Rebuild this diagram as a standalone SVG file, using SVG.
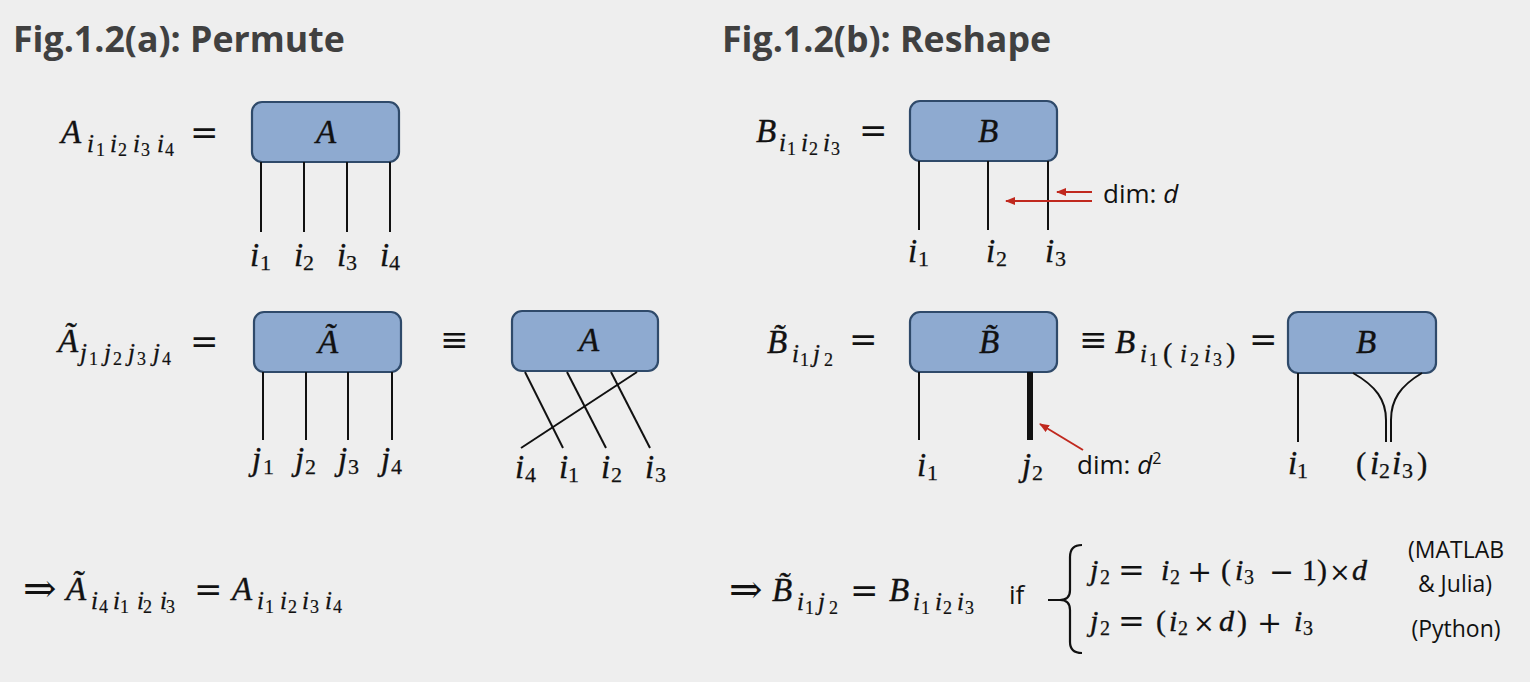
<svg xmlns="http://www.w3.org/2000/svg" width="1530" height="682" viewBox="0 0 1530 682">
<defs>
<style>
.title{font-family:"Open Sans","Noto Sans",sans-serif;font-weight:700;font-size:35.7px;fill:#404040}
.m{font-family:"Liberation Serif","DejaVu Serif",serif;font-style:italic;font-size:33px;fill:#111;stroke:#111;stroke-width:0.4}
.s{font-family:"Liberation Serif","DejaVu Serif",serif;font-style:italic;font-size:25px;fill:#111;stroke:#111;stroke-width:0.3}
.d{font-family:"Liberation Serif","DejaVu Serif",serif;font-size:18px;fill:#111;stroke:#111;stroke-width:0.2}
.li{font-family:"Liberation Serif","DejaVu Serif",serif;font-style:italic;font-size:33px;fill:#111;stroke:#111;stroke-width:0.35}
.ld{font-family:"Liberation Serif","DejaVu Serif",serif;font-size:22px;fill:#111;stroke:#111;stroke-width:0.25}
.op{font-family:"DejaVu Serif","Liberation Serif",serif;font-size:34px;fill:#111}
.up{font-family:"Liberation Serif","DejaVu Serif",serif;font-size:31px;fill:#111;stroke:#111;stroke-width:0.3}
.sp{font-family:"Liberation Serif","DejaVu Serif",serif;font-size:28px;fill:#111;stroke:#111;stroke-width:0.3}
.sans{font-family:"Open Sans","Noto Sans",sans-serif;font-size:22px;fill:#111}
.box{fill:#8eaad0;stroke:#2f4a6a;stroke-width:2.2}
.leg{stroke:#111;stroke-width:2;fill:none}
.red{stroke:#c0281e;stroke-width:2;fill:none}
</style>
<marker id="ah" viewBox="0 0 10 8" refX="9" refY="4" markerWidth="10" markerHeight="8" markerUnits="userSpaceOnUse" orient="auto">
<path d="M0,0 L10,4 L0,8 Z" fill="#c0281e"/>
</marker>
</defs>
<rect width="1530" height="682" fill="#eeeeee"/>

<text class="title" x="13" y="52">Fig.1.2(a): Permute</text>
<text class="title" x="722" y="52">Fig.1.2(b): Reshape</text>

<g id="eqA">
<text class="m" x="61" y="143">A</text>
<text class="s" x="87 110 133 157" y="152">iiii</text>
<text class="d" x="96 118 141 165" y="156">1234</text>
<text class="op" x="190" y="144">=</text>
</g>

<g id="nodeA">
<rect class="box" x="252" y="102" width="147" height="60" rx="10"/>
<text class="m" x="326" y="143" text-anchor="middle">A</text>
</g>

<g id="eqAt">
<text class="m" x="58" y="352">Ã</text>
<text class="s" x="80 104 128 153" y="361">jjjj</text>
<text class="d" x="89 113 137 162" y="365">1234</text>
<text class="op" x="190" y="353">=</text>
</g>

<g id="nodeAt">
<rect class="box" x="254" y="312" width="147" height="60" rx="10"/>
<text class="m" x="328" y="353" text-anchor="middle">Ã</text>
</g>

<text class="op" x="440" y="351">≡</text>

<g id="nodeA2">
<rect class="box" x="512" y="311" width="146" height="60" rx="10"/>
<text class="m" x="589" y="351" text-anchor="middle">A</text>
</g>

<g id="eqPerm">
<text class="op" x="23" y="602" style="font-size:40px">⇒</text>
<text class="m" x="66" y="600">Ã</text>
<text class="s" x="91 113 137 160" y="609">iiii</text>
<text class="d" x="99 120 143 166" y="613">4123</text>
<text class="op" x="194" y="601">=</text>
<text class="m" x="232" y="600">A</text>
<text class="s" x="257 280 302 325" y="609">iiii</text>
<text class="d" x="265 288 310 333" y="613">1234</text>
</g>

<g id="eqB">
<text class="m" x="756" y="142">B</text>
<text class="s" x="779 801 823" y="151">iii</text>
<text class="d" x="787 809 831" y="155">123</text>
<text class="op" x="859" y="142">=</text>
</g>

<g id="nodeB">
<rect class="box" x="910" y="101" width="147" height="60" rx="10"/>
<text class="m" x="988" y="142" text-anchor="middle">B</text>
</g>

<g id="eqBt">
<text class="m" x="767" y="353">B̃</text>
<text class="s" x="792 813" y="362">ij</text>
<text class="d" x="800 824" y="366">12</text>
<text class="op" x="849" y="351">=</text>
</g>

<g id="nodeBt">
<rect class="box" x="910" y="312" width="147" height="60" rx="10"/>
<text class="m" x="989" y="353" text-anchor="middle">B̃</text>
</g>

<g id="eqB2">
<text class="op" x="1079" y="351">≡</text>
<text class="m" x="1115" y="353">B</text>
<text class="s" x="1140" y="362">i</text>
<text class="d" x="1149" y="366">1</text>
<text class="sp" x="1163" y="362">(</text>
<text class="s" x="1180" y="362">i</text>
<text class="d" x="1190" y="366">2</text>
<text class="s" x="1204" y="362">i</text>
<text class="d" x="1213" y="366">3</text>
<text class="sp" x="1226" y="362">)</text>
<text class="op" x="1249" y="351">=</text>
</g>

<g id="nodeB2">
<rect class="box" x="1288" y="312" width="148" height="61" rx="10"/>
<text class="m" x="1366" y="353" text-anchor="middle">B</text>
</g>

<g id="eqReshape">
<text class="op" x="729" y="603" style="font-size:40px">⇒</text>
<text class="m" x="772" y="601">B̃</text>
<text class="s" x="797 818" y="610">ij</text>
<text class="d" x="805 829" y="614">12</text>
<text class="op" x="850" y="602">=</text>
<text class="m" x="889" y="601">B</text>
<text class="s" x="913 935 957" y="610">iii</text>
<text class="d" x="921 943 965" y="614">123</text>
<text class="sans" x="1009" y="604" style="font-size:26px">if</text>
<path d="M1082,545 Q1070,545 1070,557 L1070,590 Q1070,600 1060,600 L1048,600 M1060,600 Q1070,600 1070,610 L1070,642 Q1070,653 1082,653" stroke="#111" stroke-width="2.2" fill="none"/>

<text class="m" x="1090" y="580" style="font-size:30px">j</text>
<text class="ld" x="1100" y="584" style="font-size:20px">2</text>
<text class="op" x="1118" y="581" style="font-size:32px">=</text>
<text class="m" x="1161" y="580" style="font-size:30px">i</text>
<text class="ld" x="1170" y="584" style="font-size:20px">2</text>
<text class="op" x="1187" y="582" style="font-size:30px">+</text>
<text class="up" x="1221" y="580" style="font-size:30px">(</text>
<text class="m" x="1235" y="580" style="font-size:30px">i</text>
<text class="ld" x="1244" y="584" style="font-size:20px">3</text>
<text class="op" x="1269" y="582" style="font-size:30px">−</text>
<text class="up" x="1302" y="580" style="font-size:30px">1</text>
<text class="up" x="1317" y="580" style="font-size:30px">)</text>
<text class="op" x="1329" y="581" style="font-size:26px">×</text>
<text class="m" x="1352" y="580" style="font-size:30px">d</text>

<text class="m" x="1090" y="631" style="font-size:30px">j</text>
<text class="ld" x="1100" y="635" style="font-size:20px">2</text>
<text class="op" x="1118" y="632" style="font-size:32px">=</text>
<text class="up" x="1156" y="631" style="font-size:30px">(</text>
<text class="m" x="1169" y="631" style="font-size:30px">i</text>
<text class="ld" x="1178" y="635" style="font-size:20px">2</text>
<text class="op" x="1193" y="632" style="font-size:26px">×</text>
<text class="m" x="1219" y="631" style="font-size:30px">d</text>
<text class="up" x="1237" y="631" style="font-size:30px">)</text>
<text class="op" x="1257" y="633" style="font-size:30px">+</text>
<text class="m" x="1294" y="631" style="font-size:30px">i</text>
<text class="ld" x="1303" y="635" style="font-size:20px">3</text>

<text class="sans" x="1456" y="558" text-anchor="middle" style="font-size:23px">(MATLAB</text>
<text class="sans" x="1455" y="592" text-anchor="middle" style="font-size:23px">&amp; Julia)</text>
<text class="sans" x="1456" y="637" text-anchor="middle" style="font-size:23px">(Python)</text>
</g>

<g id="connectors">
<line class="leg" x1="261" y1="162" x2="261" y2="232"/>
<line class="leg" x1="304" y1="162" x2="304" y2="232"/>
<line class="leg" x1="347" y1="162" x2="347" y2="232"/>
<line class="leg" x1="390" y1="162" x2="390" y2="232"/>

<line class="leg" x1="263" y1="372" x2="263" y2="440"/>
<line class="leg" x1="306" y1="372" x2="306" y2="440"/>
<line class="leg" x1="348" y1="372" x2="348" y2="440"/>
<line class="leg" x1="392" y1="372" x2="392" y2="440"/>

<line class="leg" x1="525" y1="372" x2="563" y2="448"/>
<line class="leg" x1="567" y1="372" x2="606" y2="448"/>
<line class="leg" x1="611" y1="372" x2="650" y2="448"/>
<line class="leg" x1="637" y1="372" x2="521" y2="448"/>

<line class="leg" x1="919" y1="161" x2="919" y2="230"/>
<line class="leg" x1="988" y1="161" x2="988" y2="230"/>
<line class="leg" x1="1048" y1="161" x2="1048" y2="230"/>

<line class="leg" x1="919" y1="372" x2="919" y2="440"/>
<line x1="1030" y1="372" x2="1030" y2="440" stroke="#111" stroke-width="6"/>

<line class="leg" x1="1298" y1="373" x2="1298" y2="442"/>
<path class="leg" d="M1353,373 C1376,386 1386,400 1386,420 L1386,442"/>
<path class="leg" d="M1422,373 C1400,386 1391,400 1391,420 L1391,442"/>

<line class="red" x1="1092" y1="192" x2="1057" y2="192" marker-end="url(#ah)"/>
<line class="red" x1="1092" y1="201" x2="1006" y2="201" marker-end="url(#ah)"/>
<line class="red" x1="1083" y1="450" x2="1040" y2="424" marker-end="url(#ah)"/>
</g>

<g id="labels">
<text class="li" x="250 294 337 380" y="266">iiii</text>
<text class="ld" x="260 303 346 389" y="270">1234</text>

<text class="li" x="252 295 338 381" y="470">jjjj</text>
<text class="ld" x="263 305 348 391" y="474">1234</text>

<text class="li" x="515 559 601 645" y="478">iiii</text>
<text class="ld" x="525 568 611 655" y="482">4123</text>

<text class="li" x="908 986 1045" y="262">iii</text>
<text class="ld" x="918 996 1055" y="266">123</text>

<text class="li" x="917 1022" y="476">ij</text>
<text class="ld" x="927 1032" y="480">12</text>

<text class="li" x="1288" y="474">i</text>
<text class="ld" x="1297" y="478">1</text>
<text class="up" x="1356" y="474">(</text>
<text class="li" x="1370" y="474">i</text>
<text class="ld" x="1379" y="478">2</text>
<text class="li" x="1392" y="474">i</text>
<text class="ld" x="1402" y="478">3</text>
<text class="up" x="1417" y="474">)</text>

<text class="sans" x="1103" y="203" style="font-size:26px">dim: <tspan font-style="italic">d</tspan></text>
<text class="sans" x="1077" y="474" style="font-size:26px">dim: <tspan font-style="italic">d</tspan><tspan dy="-10" style="font-size:16px">2</tspan></text>
</g>
</svg>
